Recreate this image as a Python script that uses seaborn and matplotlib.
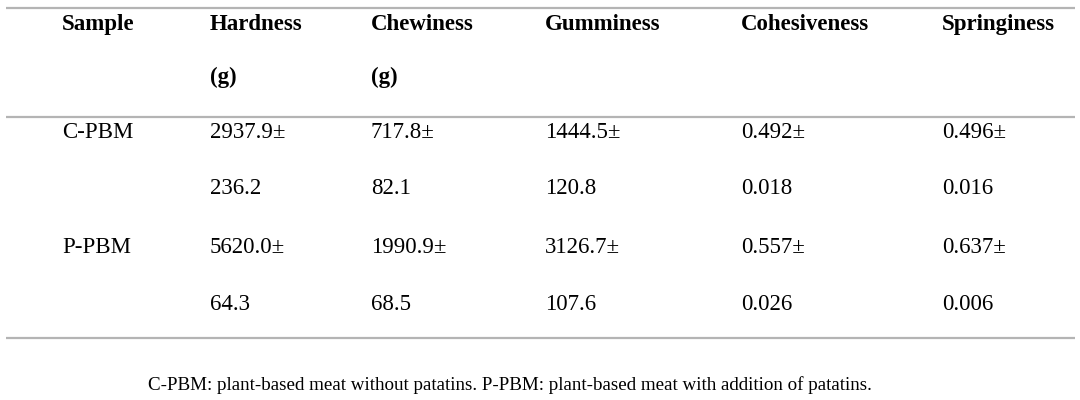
import matplotlib
matplotlib.use("Agg")
import matplotlib.pyplot as plt
import seaborn as sns

# ── DATA ────────────────────────────────────────────────────
columns = ["Sample", "Hardness", "Chewiness", "Gumminess", "Cohesiveness", "Springiness"]
units = ["", "(g)", "(g)", "", "", ""]
samples = ["C-PBM", "P-PBM"]
means = [
    ["2937.9", "717.8", "1444.5", "0.492", "0.496"],
    ["5620.0", "1990.9", "3126.7", "0.557", "0.637"],
]
sds = [
    ["236.2", "82.1", "120.8", "0.018", "0.016"],
    ["64.3", "68.5", "107.6", "0.026", "0.006"],
]
footnote = "C-PBM: plant-based meat without patatins. P-PBM: plant-based meat with addition of patatins."

# ── LAYOUT ──────────────────────────────────────────────────
sns.set_theme(style="white")
plt.rcParams["font.family"] = ["Liberation Serif", "DejaVu Serif"]
plt.rcParams["text.color"] = "black"

col_x = [62, 210, 371, 545, 741, 942]
head_y = [30, 83]          # text baselines
row_y = [(138, 194), (253, 310)]
rule_y = [8, 117, 338]
FS = 16.5

fig = plt.figure(figsize=(10.8, 4), dpi=100)
ax = fig.add_axes([0, 0, 1, 1])
ax.set_xlim(0, 1080)
ax.set_ylim(400, 0)
ax.axis("off")

for y in rule_y:
    ax.plot([6, 1075], [y, y], color="#b4b4b4", lw=1.6, solid_capstyle="butt")

for x, name, unit in zip(col_x, columns, units):
    ax.text(x, head_y[0], name, fontsize=FS, fontweight="bold", va="baseline", ha="left")
    if unit:
        ax.text(x, head_y[1], unit, fontsize=FS, fontweight="bold", va="baseline", ha="left")

for (y1, y2), s, m_row, sd_row in zip(row_y, samples, means, sds):
    ax.text(col_x[0], y1, s, fontsize=FS, va="baseline", ha="left")
    for x, m, sd in zip(col_x[1:], m_row, sd_row):
        ax.text(x, y1, m + "±", fontsize=FS, va="baseline", ha="left")
        ax.text(x, y2, sd, fontsize=FS, va="baseline", ha="left")

ax.text(510, 390, footnote, fontsize=13.7, va="baseline", ha="center")

fig.savefig("out.png", dpi=100)
